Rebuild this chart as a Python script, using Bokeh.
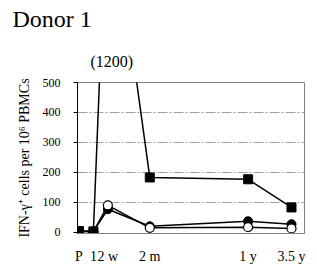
from bokeh.plotting import figure
from bokeh.models import FixedTicker, Title
from bokeh.embed import file_html
from bokeh.resources import INLINE

# ---- data ----
time_labels = ["P", "1", "2 w", "2 m", "1 y", "3.5 y"]
time_pos = [0, 1, 2, 4.9, 11.7, 14.7]
squares_vals = [4, 3, 1200, 183, 177, 83]
filled_vals = [4, 3, 77, 20, 37, 27]
open_vals = [3, 2, 90, 15, 17, 13]
y_ticks = [0, 100, 200, 300, 400, 500]
title_text = "Donor 1"
peak_note = "(1200)"
y_label = "IFN-\u03b3\u207a cells per 10\u2076 PBMCs"

SERIF = "Liberation Serif"

p = figure(width=317, height=271, x_range=(-0.1, 15.6), y_range=(-4, 500),
           output_backend="svg", toolbar_location=None,
           min_border_left=77, min_border_right=13, min_border_top=0,
           min_border_bottom=38)
p.background_fill_color = "white"
p.border_fill_color = "white"
p.outline_line_color = "#808080"
p.outline_line_width = 1

# texts above the frame
p.add_layout(Title(text=peak_note, text_font=SERIF, text_font_size="16px",
                   text_font_style="normal", text_color="black", align="left",
                   offset=13, standoff=25), "above")
p.title.text = title_text
p.title.text_font = SERIF
p.title.text_font_size = "24px"
p.title.text_font_style = "normal"
p.title.text_color = "black"
p.title.align = "left"
p.title.vertical_align = "top"
p.title.offset = -65
p.title.standoff = 10

# grid
p.xgrid.visible = False
p.ygrid.ticker = FixedTicker(ticks=y_ticks[1:])
p.ygrid.grid_line_color = "#a0a0a0"
p.ygrid.grid_line_dash = "10 2 2 2"
p.ygrid.grid_line_width = 1

# y axis
p.yaxis.ticker = FixedTicker(ticks=y_ticks)
p.yaxis.minor_tick_line_color = None
p.yaxis.major_tick_out = 4
p.yaxis.major_tick_in = 0
p.yaxis.major_tick_line_color = "black"
p.yaxis.axis_line_color = "black"
p.yaxis.major_label_standoff = 13
p.yaxis.major_label_text_font = SERIF
p.yaxis.major_label_text_font_size = "12px"
p.yaxis.major_label_text_color = "black"
p.yaxis.axis_label = y_label
p.yaxis.axis_label_text_font = SERIF
p.yaxis.axis_label_text_font_size = "14px"
p.yaxis.axis_label_text_font_style = "normal"
p.yaxis.axis_label_text_color = "black"
p.yaxis.axis_label_standoff = 8

# x axis
p.xaxis.ticker = FixedTicker(ticks=time_pos)
p.xaxis.major_label_overrides = {t: lab for t, lab in zip(time_pos, time_labels)}
p.xaxis.minor_tick_line_color = None
p.xaxis.major_tick_line_color = None
p.xaxis.major_tick_out = 0
p.xaxis.major_tick_in = 0
p.xaxis.axis_line_color = "#808080"
p.xaxis.major_label_standoff = 15
p.xaxis.major_label_text_font = SERIF
p.xaxis.major_label_text_font_size = "14px"
p.xaxis.major_label_text_color = "black"

# series
p.line(time_pos, filled_vals, line_color="black", line_width=1.5)
p.scatter(time_pos, filled_vals, marker="circle", size=9, fill_color="black", line_color="black")
p.line(time_pos, open_vals, line_color="black", line_width=1.5)
p.scatter(time_pos, open_vals, marker="circle", size=9, fill_color="white", line_color="black", line_width=1.2)
p.line(time_pos, squares_vals, line_color="black", line_width=1.5)
p.scatter(time_pos, squares_vals, marker="square", size=9, fill_color="black", line_color="black")

open("out.html", "w").write(file_html(p, INLINE))
